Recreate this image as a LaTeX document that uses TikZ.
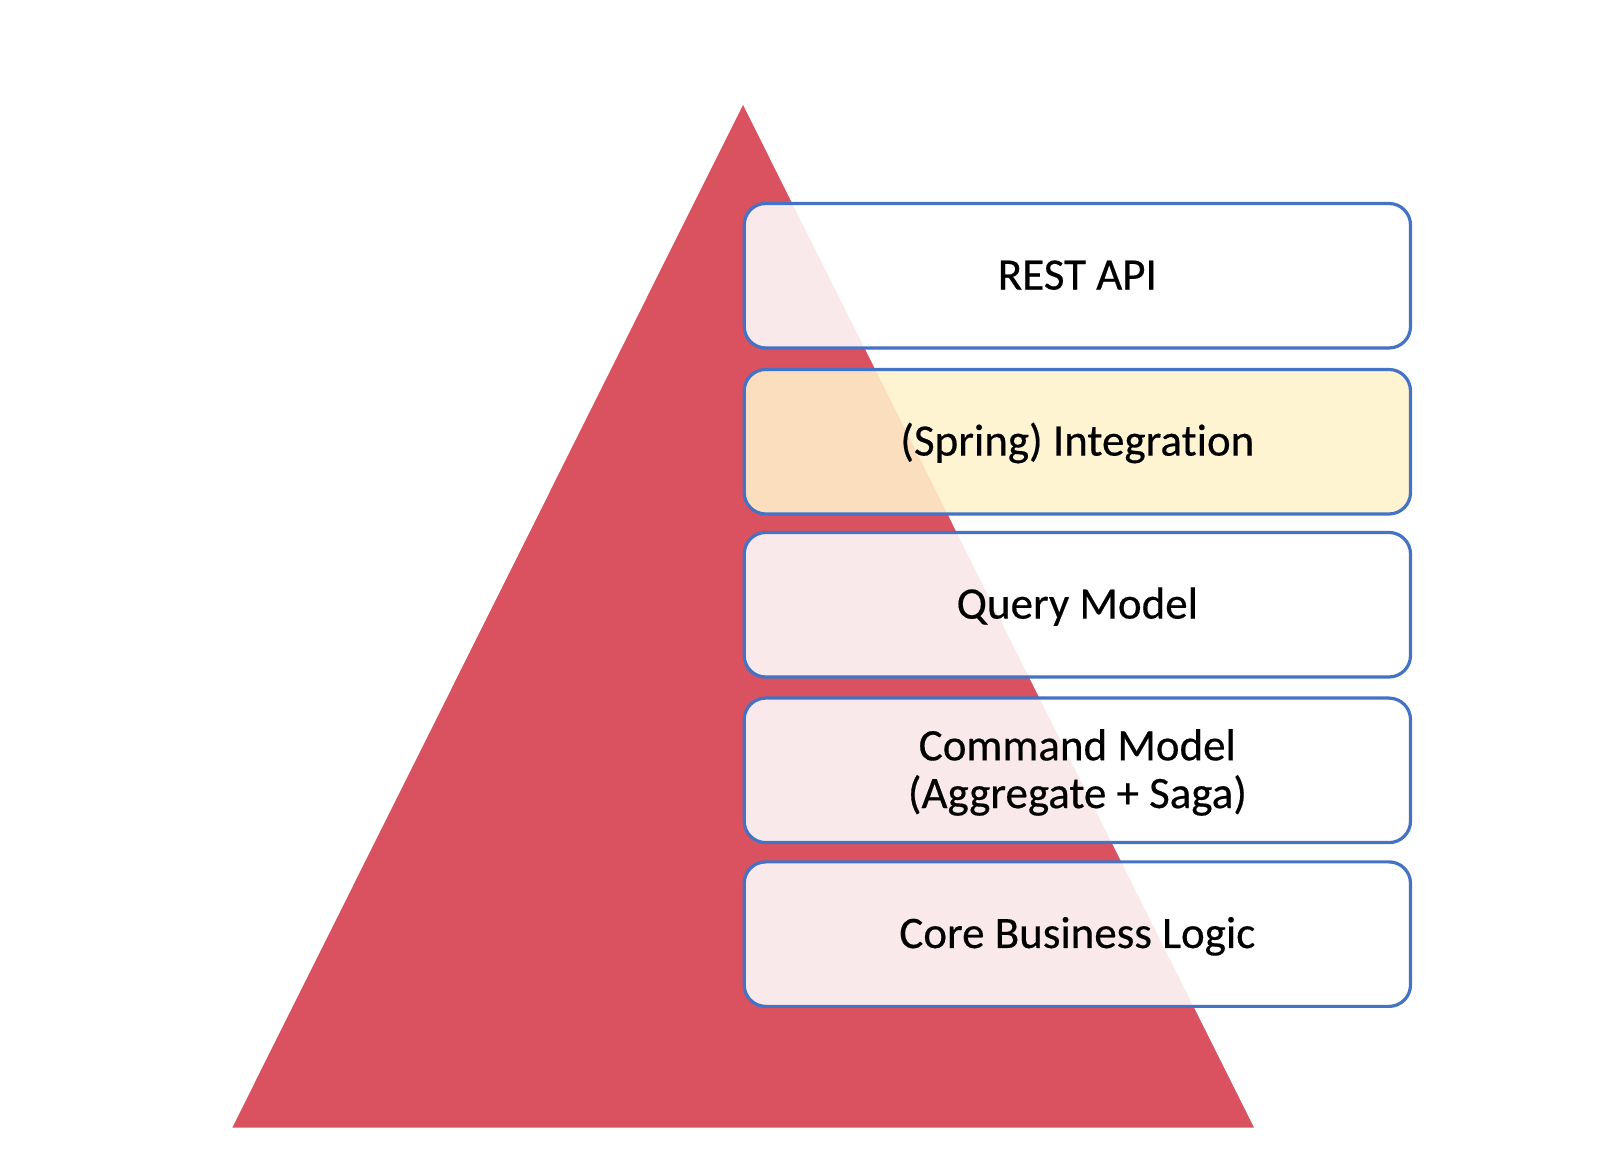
\documentclass[tikz,border=0pt]{standalone}
\usepackage{fontspec}
\setmainfont{Carlito}
\newfontfamily\lyrfont{Carlito}[FakeBold=0.4, Ligatures={NoCommon}, RawFeature={-liga;-dlig}]
\definecolor{pyr}{RGB}{218,82,96}
\definecolor{edgeblue}{RGB}{68,114,196}
\definecolor{paleGold}{RGB}{255,242,204}
\begin{document}
\begin{tikzpicture}[x=1pt,y=1pt,
  layer/.style={draw=edgeblue, line width=3.2pt, rounded corners=21.5pt,
    fill=white, fill opacity=0.88, text opacity=1, text=black,
    minimum width=666.3pt, minimum height=144.5pt, inner sep=0pt,
    font=\lyrfont\fontsize{45}{47.7}\selectfont, align=center},
  oneline/.style={text height=27.7pt, text depth=0pt, yshift=1.4pt},
  twoline/.style={text height=75.4pt, text depth=0pt}]
\useasboundingbox (0,0) rectangle (1600,1156);
\fill[pyr] (743,1051) -- (1254,28.3) -- (232.3,28.3) -- cycle;
\node[layer,oneline] (rest) at (1077.35,878.85) {REST API};
\node[layer,oneline,fill=paleGold] (integ) at (1077.35,712.85) {(Spring) Integration};
\node[layer,oneline] (query) at (1077.35,549.85) {Query Model};
\node[layer,twoline] (command) at (1077.35,385.65) {Command Model\\(Aggregate + Saga)};
\node[layer,oneline] (core) at (1077.35,220.45) {Core Business Logic};
\end{tikzpicture}
\end{document}
